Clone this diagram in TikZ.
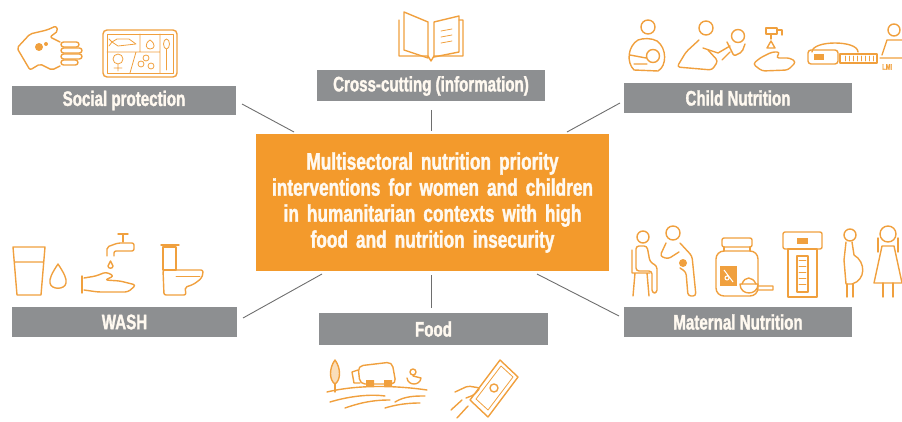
\documentclass[tikz,border=0pt]{standalone}
\usepackage{fontspec}
\newfontfamily\condfont{Liberation Sans}[FakeStretch=0.72, FakeBold=1.5]
\usetikzlibrary{calc}

\definecolor{boxorange}{HTML}{F39A2C}
\definecolor{icoorange}{HTML}{F0A03E}
\definecolor{bargray}{HTML}{8D8F91}
\definecolor{linkgray}{HTML}{6E6E6E}
\definecolor{paletext}{HTML}{FFF9F0}

\tikzset{
  bar/.style={fill=bargray, minimum width=226pt, minimum height=30pt, inner sep=0pt,
    text=paletext, font=\condfont\bfseries\fontsize{21}{24}\selectfont},
  core/.style={fill=boxorange, minimum width=353pt, minimum height=137pt, text width=345pt,
    align=center, inner sep=0pt, text=paletext, font=\condfont\bfseries\fontsize{24}{26}\selectfont},
  ico/.style={draw=icoorange, line width=1.4pt, line join=round, line cap=round},
  thin/.style={ico, line width=0.8pt},
  link/.style={draw=linkgray, line width=0.9pt}
}

\begin{document}
\begin{tikzpicture}[x=1pt,y=-1pt]
\useasboundingbox (0,0) rectangle (902,422);

% centre box and the six sectors
\node[core] (core) at (432.5,202.5) {Multisectoral nutrition priority\\
  interventions for women and children\\ in humanitarian contexts with high\\
  food and nutrition insecurity};
\node[bar, minimum width=224pt, minimum height=29pt] (social) at (124,100.5) {Social protection};
\node[bar, minimum width=228pt, minimum height=31pt] (cross) at (431,86) {Cross-cutting (information)};
\node[bar, minimum width=228pt] (child) at (738,98) {Child Nutrition};
\node[bar, minimum width=225pt] (wash) at (124.5,322) {WASH};
\node[bar, minimum width=229pt, minimum height=32pt] (food) at (433.5,329) {Food};
\node[bar, minimum width=228pt] (mat) at (738,322) {Maternal Nutrition};

% connectors
\coordinate (social-e) at (242,104);  \coordinate (core-nw) at (294,132);
\coordinate (cross-s)  at (431,110);  \coordinate (core-n)  at (431,131);
\coordinate (child-w)  at (620,103);  \coordinate (core-ne) at (567,132);
\coordinate (wash-e)   at (243,318);  \coordinate (core-sw) at (322,274);
\coordinate (food-n)   at (431,308);  \coordinate (core-s)  at (431,275);
\coordinate (mat-w)    at (619,316);  \coordinate (core-se) at (537,274);
\draw[link] (social-e) -- (core-nw);
\draw[link] (cross-s) -- (core-n);
\draw[link] (child-w) -- (core-ne);
\draw[link] (wash-e) -- (core-sw);
\draw[link] (food-n) -- (core-s);
\draw[link] (mat-w) -- (core-se);

% social protection: hand with coins, food tray
\draw[ico, rounded corners=2pt] (60,66) -- (52,70) -- (40,64) -- (30,70) -- (17,48) -- (30,34)
  -- (47,30) -- (56,26) -- (58,31) -- (50,37) -- (60,42);
\fill[icoorange] (39,47) circle (4) (46,44) circle (2);
\foreach \y/\l in {42/18,48/21,54/21,60/17}
  \draw[ico, rounded corners=2.5pt] (61,\y) rectangle ++(\l,5);
\draw[ico, rounded corners=4pt] (103,30) rectangle (177,77);
\draw[thin] (107,34) rectangle (173,73);
\draw[thin] (160,34) -- (160,73) (107,52) -- (160,52) (140,34) -- (140,52) (136,52) -- (130,73);
\draw[thin] (112,42) -- (117,39) -- (129,39) -- (136,44) -- (118,46) -- cycle (112,42) -- (109,39) (112,42) -- (109,46);
\draw[thin] (150,40) .. controls (144,44) and (146,49) .. (150,49) .. controls (155,49) and (156,44) .. (150,40);
\draw[thin] (118,59) circle (5) (118,64) -- (118,71) (114,68) -- (122,68);
\draw[thin] (141,64) circle (3) (146,58) circle (3) (151,66) circle (3);
\draw[thin] (166.5,44) ellipse (3 and 5) (166.5,49) -- (166.5,70);

% cross-cutting: open book
\draw[ico] (399,20) -- (399,56) -- (428,56) -- (431,61) -- (434,56) -- (463,56) -- (463,20) -- (459,20);
\draw[ico] (404,12) -- (428,22) -- (428,58) -- (404,50) -- cycle;
\draw[ico] (434,22) -- (459,16) -- (459,52) -- (434,57) -- cycle;
\draw[thin] (441,31) -- (452,29) (441,37) -- (452,35) (441,43) -- (452,41);

% child nutrition
\draw[ico] (648,27) circle (7);
\draw[ico] (638,40) .. controls (628,46) and (626,62) .. (634,70) -- (658,71)
  .. controls (667,66) and (667,48) .. (657,41) .. controls (652,38) and (643,38) .. (638,40);
\draw[ico] (653,56) circle (6.5);
\draw[ico] (630,55) -- (646,58) (634,64) -- (647,64);
\draw[ico] (706,28) circle (7);
\draw[ico, rounded corners=3pt] (699,40) -- (686,52) -- (677,67) -- (712,70) -- (718,61) -- (708,50);
\draw[ico] (703,48) -- (718,53) -- (730,46);
\draw[ico] (738,36) circle (6.5);
\draw[ico, rounded corners=2pt] (727,42) -- (734,56) -- (742,52) -- (745,44) (730,52) -- (722,60);
\draw[ico] (766,28) rectangle (777,34) (777,30) -- (782,30) -- (782,35) (771,34) -- (771,39);
\draw[ico] (771,41) -- (767,48) -- (775,48) -- cycle;
\draw[ico, rounded corners=3pt] (753,64) -- (760,58) -- (772,52) -- (780,52) -- (776,58) -- (790,58)
  -- (796,62) -- (788,70) -- (762,71) -- cycle;
\draw[ico] (812,52) .. controls (812,40) and (858,40) .. (858,52);
\draw[ico, rounded corners=3pt] (808,50) rectangle (838,64);
\fill[icoorange] (814,54) rectangle (824,60);
\draw[ico] (840,54) rectangle (877,63);
\foreach \x in {845,849,...,873} \draw[thin] (\x,56) -- (\x,61);
\draw[ico] (894,30) circle (6) (882,55) -- (887,40) -- (902,40) (880,58) -- (902,58);
\node[text=icoorange, font=\condfont\bfseries\fontsize{8}{9}\selectfont, anchor=west, inner sep=0pt] (lmi) at (882,67) {LMI};

% WASH: glass, drop, handwashing, toilet
\draw[ico] (13,247) -- (17,295) -- (41,295) -- (45,247) -- cycle (15,262) -- (43,262);
\draw[ico] (58,264) .. controls (52,273) and (49,279) .. (50,283) .. controls (51,290) and (65,290) .. (66,283)
  .. controls (67,279) and (64,273) .. (58,264);
\draw[ico] (118,234) -- (128,234) (123,234) -- (123,242);
\draw[ico, rounded corners=2pt] (107,256) -- (107,247) -- (118,243) -- (134,243) -- (134,251) -- (114,251) -- (114,256);
\draw[ico] (110.5,261) -- (108,266) .. controls (108,269) and (113,269) .. (113,266) -- cycle;
\draw[ico, rounded corners=3pt] (84,278) -- (96,276) -- (106,272) -- (114,276) -- (105,280) -- (120,281)
  -- (136,285) -- (128,292) -- (98,292) -- (84,290);
\draw[ico] (82,276) -- (82,293);
\draw[ico] (161,245) -- (179,245) (163,247) rectangle (176,270);
\draw[ico, rounded corners=2pt] (163,270) -- (203,270) -- (203,274) .. controls (200,282) and (190,286) .. (185,287)
  -- (186,295) -- (164,295) -- cycle;
\draw[thin] (176,276) -- (200,276);

% food: farm, cash transfer
\draw[ico, fill=icoorange!35] (335,360) .. controls (329,368) and (329,380) .. (335,384)
  .. controls (341,380) and (341,368) .. (335,360);
\draw[ico] (335,384) -- (335,392);
\draw[ico, rounded corners=5pt] (358,366) -- (392,362) -- (396,384) -- (360,384) -- cycle;
\draw[ico] (352,372) -- (358,370) (352,372) -- (354,383) -- (360,383);
\fill[icoorange] (366,380) rectangle (374,386) (384,380) rectangle (392,386);
\draw[ico] (413,372) circle (3) (407,378) .. controls (408,386) and (420,386) .. (421,378) -- (413,376);
\draw[ico] (327,392) .. controls (360,384) and (400,386) .. (427,390);
\draw[ico] (330,402) .. controls (350,396) and (370,394) .. (385,396);
\draw[ico] (345,408) .. controls (365,401) and (378,400) .. (390,400);
\draw[ico] (395,402) .. controls (405,396) and (415,396) .. (425,396);
\draw[ico] (385,408) .. controls (398,404) and (410,403) .. (420,403);
\draw[ico] (500,360) -- (518,377) -- (488,417) -- (470,400) -- cycle;
\draw[thin] (501,366) -- (513,377) -- (488,410) -- (476,399) -- cycle;
\draw[ico] (494,388) circle (4);
\draw[ico, rounded corners=2pt] (455,392) -- (468,386) -- (480,388) -- (474,395) -- (466,398);
\draw[ico] (457,418) -- (468,406) (451,410) -- (462,400);

% maternal nutrition
\draw[ico] (643,237) circle (6);
\draw[ico, rounded corners=3pt] (636,246) -- (647,246) -- (650,262) -- (657,266) -- (657,293)
  -- (652,293) -- (652,271) -- (636,271) -- cycle;
\draw[ico] (632,250) -- (632,273) -- (650,273) (635,273) -- (633,296) (647,273) -- (649,296);
\draw[ico] (673,233) circle (7);
\draw[ico, rounded corners=3pt] (666,243) -- (660,256) -- (668,259) -- (679,252);
\draw[ico, rounded corners=3pt] (680,243) -- (692,256) -- (696,296) -- (688,296) -- (686,272) -- (680,268);
\fill[icoorange] (683,263) circle (4);
\draw[ico, rounded corners=2pt] (722,238) rectangle (752,247);
\draw[ico] (724,247) -- (724,251) (750,247) -- (750,251);
\draw[ico, rounded corners=8pt] (716,251) -- (758,251) -- (758,296) -- (716,296) -- cycle;
\fill[icoorange] (720,266) rectangle (737,286);
\draw[white, line width=1pt] (724,270) -- (733,282) (727,278) circle (2);
\draw[ico, fill=white] (740,284) -- (758,284) .. controls (758,296) and (740,296) .. (740,284);
\draw[ico] (742,284) .. controls (745,276) and (752,276) .. (756,284) (758,286) -- (773,286) -- (773,290) -- (757,290);
\draw[ico, rounded corners=2pt] (783,232) rectangle (822,249);
\draw[ico] (788,249) rectangle (817,297) (797,256) rectangle (808,292);
\foreach \y in {260,266,...,288} \draw[thin] (799,\y) -- (806,\y);
\fill[icoorange] (797,238) rectangle (808,244);
\draw[ico] (850,235) circle (6);
\draw[ico] (846,242) -- (844,260) -- (846,284) (852,242) -- (854,255)
  .. controls (866,262) and (866,280) .. (852,284) -- (846,284);
\draw[ico] (847,284) -- (847,297) (853,284) -- (853,297);
\draw[ico] (888,234) circle (8);
\draw[ico] (878,238) -- (878,252) (898,238) -- (898,252);
\draw[ico] (882,246) -- (894,246) -- (902,283) -- (874,283) -- cycle;
\draw[ico] (883,283) -- (883,297) (893,283) -- (893,297);
\end{tikzpicture}
\end{document}
